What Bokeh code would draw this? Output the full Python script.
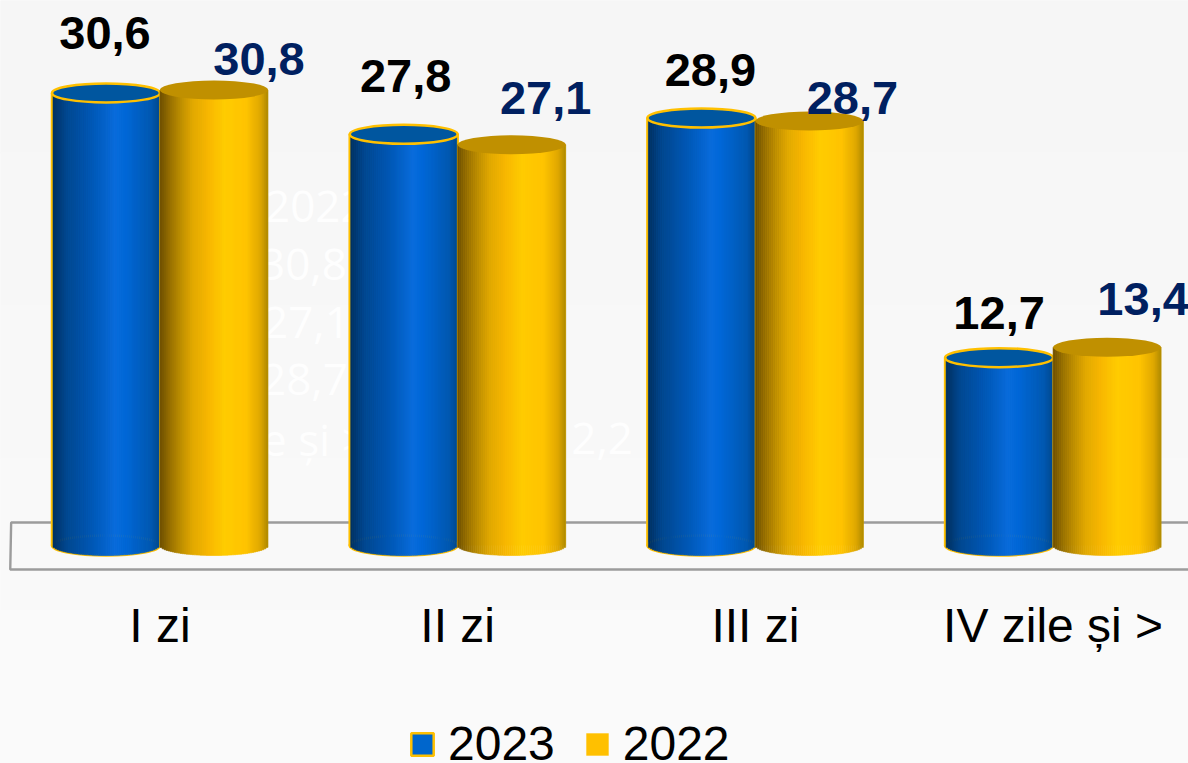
from bokeh.plotting import figure
from bokeh.models import ColumnDataSource, FixedTicker, Legend, LegendItem, Range1d
from bokeh.core.properties import value
from bokeh.embed import file_html
from bokeh.resources import INLINE

categories = ["I zi", "II zi", "III zi", "IV zile și >"]
values_2023 = [30.6, 27.8, 28.9, 12.7]
values_2022 = [30.8, 27.1, 28.7, 13.4]
labels_2023 = ["30,6", "27,8", "28,9", "12,7"]
labels_2022 = ["30,8", "27,1", "28,7", "13,4"]
ghost_texts = ["2022", "30,8", "27,1", "28,7", "e și >", "12,2"]

PX_X = 297.7
PX_Y = 14.79
BAR_W = 108 / PX_X
ARC = 10 / PX_Y

BLUE = [(0, "#00305f"), (.13, "#00478f"), (.37, "#0058b5"), (.59, "#0a6cdc"), (.68, "#0068d8"), (.93, "#0058b0"), (1, "#004a90")]
GOLD = [(0, "#6e5000"), (.1, "#9a7200"), (.2, "#c09000"), (.3, "#e0a800"), (.45, "#f8b800"), (.6, "#ffcc00"), (.8, "#ffc400"), (.93, "#e0a800"), (1, "#b08a00")]
BACKDROP = ["#f6f6f6", "#f7f7f7", "#f8f8f8", "#f9f9f9", "#fafafa"]


def ramp(stops, t):
    for (t0, c0), (t1, c1) in zip(stops, stops[1:]):
        if t <= t1:
            f = (t - t0) / (t1 - t0)
            a = [int(c0[i:i + 2], 16) for i in (1, 3, 5)]
            b = [int(c1[i:i + 2], 16) for i in (1, 3, 5)]
            return "#%02x%02x%02x" % tuple(round(u + (v - u) * f) for u, v in zip(a, b))
    return stops[-1][1]


p = figure(width=1188, height=763, output_backend="svg", toolbar_location=None, tools="",
           x_range=Range1d(-159.5 / PX_X, (1188 - 159.5) / PX_X),
           y_range=Range1d((545 - 763) / PX_Y, 545 / PX_Y),
           y_axis_location=None, min_border_left=0, min_border_right=0, min_border_top=0,
           min_border_bottom=0)
p.grid.visible = False
p.outline_line_color = None
p.background_fill_color = "#f8f8f8"
p.border_fill_color = "#f8f8f8"

ax = p.xaxis[0]
ax.ticker = FixedTicker(ticks=list(range(len(categories))))
ax.major_label_overrides = {i: c for i, c in enumerate(categories)}
ax.axis_line_color = None
ax.major_tick_line_color = None
ax.minor_tick_line_color = None
ax.major_label_text_font = "Liberation Sans"
ax.major_label_text_font_size = "48px"
ax.major_label_text_color = "#000000"
ax.major_label_standoff = -171

x0, x1 = p.x_range.start, p.x_range.end
y0, y1 = p.y_range.start, p.y_range.end

# very soft top-to-bottom backdrop
band = (y1 - y0) / len(BACKDROP)
p.quad(left=[x0] * 5, right=[x1] * 5,
       top=[y1 - band * i for i in range(5)], bottom=[y1 - band * (i + 1) for i in range(5)],
       fill_color=BACKDROP, line_color=BACKDROP, line_width=1)

# floor of the 3D scene
floor_top, floor_bot = 23 / PX_Y, -24 / PX_Y
p.line([x1, -0.5, -0.503, x1], [floor_top, floor_top, floor_bot, floor_bot], line_color="#9c9c9c", line_width=2.4)

# faint leftovers of an embedded table behind the bars
ghost_dx = [105, 100, 103, 101, 102, 473]
ghost_dy = [-339, -281, -223, -166, -107, -107]
ghost_align = ["left"] * 5 + ["right"]
p.text(x=[0] * 6, y=[0] * 6, text=ghost_texts,
       x_offset=ghost_dx, y_offset=ghost_dy, text_align=ghost_align, text_baseline="middle",
       text_font=value("Open Sans"), text_font_size="44px", text_color="#ffffff", text_alpha=0.9)

x_2023 = [i - BAR_W / 2 for i in range(4)]
x_2022 = [i + BAR_W / 2 for i in range(4)]


def cylinder(xs, vals, stops, top_color, outline):
    line = "#FFC000" if outline else None
    r = p.vbar(x=xs, top=vals, bottom=0, width=BAR_W, fill_color="#0066CC" if outline else "#FFC000",
               line_color=line, line_width=2.5)
    if outline:
        p.ellipse(x=xs, y=[0] * 4, width=BAR_W, height=2 * ARC, fill_color="#0058b0", line_color=line, line_width=2.5)
    n = 54
    inset = 1.0 / PX_X if outline else 0
    w = (BAR_W - 2 * inset) / n
    L, R, T, B, C = [], [], [], [], []
    for cx, v in zip(xs, vals):
        for k in range(n):
            t = (k + .5) / n
            L.append(cx - BAR_W / 2 + inset + k * w)
            R.append(cx - BAR_W / 2 + inset + (k + 1) * w)
            T.append(v)
            B.append(-ARC * (1 - (2 * t - 1) ** 2) ** .5)
            C.append(ramp(stops, t))
    src = ColumnDataSource(dict(l=L, r=R, t=T, b=B, c=C))
    p.quad(left="l", right="r", top="t", bottom="b", fill_color="c", line_color="c", line_width=0.6, source=src)
    p.ellipse(x=xs, y=vals, width=BAR_W, height=19 / PX_Y, fill_color=top_color, line_color=line, line_width=2.5)
    return r


r23 = cylinder(x_2023, values_2023, BLUE, "#00569f", True)
r22 = cylinder(x_2022, values_2022, GOLD, "#c09000", False)

# value labels
dx_2023 = [-1, 2, 9, 0]
dy_2023 = [-60, -58, -48, -45]
dx_2022 = [45, 34, 43, 36]
dy_2022 = [-31, -47, -23, -48]
p.text(x=x_2023, y=values_2023, text=labels_2023, x_offset=dx_2023, y_offset=dy_2023,
       text_align="center", text_baseline="middle", text_font=value("Liberation Sans"),
       text_font_style="bold", text_font_size="47px", text_color="#000000")
p.text(x=x_2022, y=values_2022, text=labels_2022, x_offset=dx_2022, y_offset=dy_2022,
       text_align="center", text_baseline="middle", text_font=value("Liberation Sans"),
       text_font_style="bold", text_font_size="47px", text_color="#002060")

legend = Legend(items=[LegendItem(label="2023", renderers=[r23]), LegendItem(label="2022", renderers=[r22])],
                orientation="horizontal", location=(408, -8), border_line_color=None,
                background_fill_alpha=0, padding=0, margin=0, glyph_width=28, glyph_height=28,
                label_standoff=12, spacing=28, label_text_font="Liberation Sans",
                label_text_font_size="48px", label_text_color="#000000")
p.add_layout(legend)

open("out.html", "w").write(file_html(p, INLINE))
